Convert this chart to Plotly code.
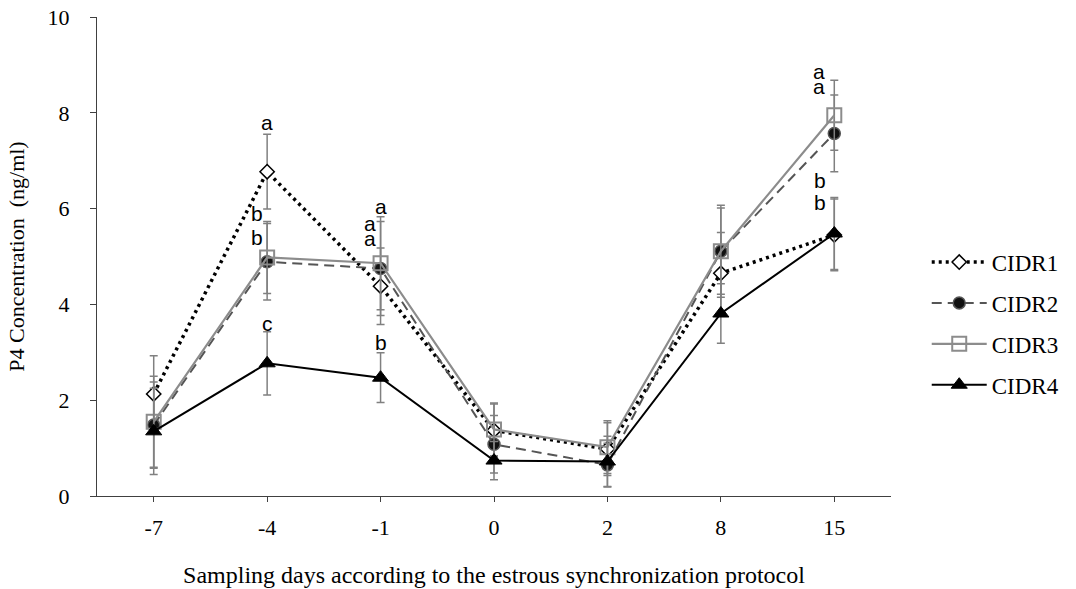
import plotly.graph_objects as go

days = ["-7", "-4", "-1", "0", "2", "8", "15"]

cidr1 = [2.13, 6.77, 4.38, 1.37, 0.98, 4.65, 5.45]
cidr1_err = [0.80, 0.78, 0.80, 0.55, 0.55, 0.85, 0.75]
cidr2 = [1.48, 4.89, 4.75, 1.08, 0.65, 5.11, 7.57]
cidr2_err = [0.90, 0.80, 0.98, 0.60, 0.45, 0.90, 0.80]
cidr3 = [1.55, 4.98, 4.86, 1.39, 1.02, 5.11, 7.95]
cidr3_err = [0.95, 0.75, 0.97, 0.55, 0.55, 0.96, 0.73]
cidr4 = [1.35, 2.77, 2.47, 0.74, 0.72, 3.81, 5.48]
cidr4_err = [0.90, 0.66, 0.52, 0.40, 0.53, 0.62, 0.75]

# significance letters
letters_day = ["-4", "-4", "-4", "-4", "-1", "-1", "-1", "-1", "15", "15", "15", "15"]
letters_y = [7.79, 5.89, 5.40, 3.61, 6.04, 5.68, 5.37, 3.21, 8.86, 8.55, 6.58, 6.12]
letters_txt = ["a", "b", "b", "c", "a", "a", "a", "b", "a", "a", "b", "b"]
letters_dx = [0, -10, -10, 0, 0, -11, -11, 0, -15, -15, -14, -14]

series = [
    dict(name="CIDR1", y=cidr1, e=cidr1_err,
         line=dict(color="black", width=3.5, dash="3px,4px"),
         marker=dict(symbol="diamond", size=11, color="white",
                     line=dict(color="black", width=1.5))),
    dict(name="CIDR2", y=cidr2, e=cidr2_err,
         line=dict(color="#555555", width=2, dash="10px,6px"),
         marker=dict(symbol="circle", size=12, color="#111111",
                     line=dict(color="#555555", width=1.5))),
    dict(name="CIDR3", y=cidr3, e=cidr3_err,
         line=dict(color="#8c8c8c", width=2.2),
         marker=dict(symbol="square", size=14, color="rgba(255,255,255,0)",
                     line=dict(color="#8c8c8c", width=2))),
    dict(name="CIDR4", y=cidr4, e=cidr4_err,
         line=dict(color="black", width=2),
         marker=dict(symbol="triangle-up", size=14, color="black",
                     line=dict(color="black", width=1))),
]

fig = go.Figure()
for i, s in enumerate(series):
    fig.add_trace(go.Scatter(
        x=days, y=s["y"], name=s["name"], mode="lines+markers",
        line=s["line"], marker=s["marker"], legendgroup=s["name"],
        error_y=dict(type="data", array=s["e"], visible=True,
                     color="#808080", thickness=1.5, width=4),
    ))

for d, yv, t, dx in zip(letters_day, letters_y, letters_txt, letters_dx):
    fig.add_annotation(x=days.index(d), y=yv, text=t, showarrow=False, xshift=dx,
                       yanchor="middle", xanchor="center",
                       font=dict(family="Liberation Sans, Arial", size=21, color="black"))

serif = "Liberation Serif, Times New Roman, serif"
fig.update_layout(
    width=1076, height=589,
    margin=dict(l=97, r=178, t=17, b=93),
    paper_bgcolor="white", plot_bgcolor="white",
    font=dict(family=serif, size=22, color="black"),
    showlegend=True,
    legend=dict(x=1.045, y=0.36, xanchor="left", yanchor="middle",
                traceorder="grouped", tracegroupgap=8, itemwidth=55,
                font=dict(family=serif, size=23, color="black"),
                bgcolor="rgba(0,0,0,0)"),
    xaxis=dict(type="category", range=[-0.5, len(days) - 0.5],
               showgrid=False, zeroline=False,
               showline=True, linecolor="#404040", linewidth=1,
               ticks="outside", ticklen=5, tickcolor="#404040",
               ticklabelstandoff=7,
               title=dict(text="Sampling days according to the estrous synchronization protocol",
                          font=dict(family=serif, size=24), standoff=26),
               automargin=False),
    yaxis=dict(range=[0, 10], dtick=2, showgrid=False, zeroline=False,
               showline=True, linecolor="#404040", linewidth=1,
               ticks="outside", ticklen=6, tickcolor="#404040",
               ticklabelstandoff=16,
               title=dict(text="P4 Concentration\u00a0 (ng/ml)",
                          font=dict(family=serif, size=22), standoff=16),
               automargin=False),
)

fig.write_html("out.html", config={"displayModeBar": False},
               post_script="document.body.style.margin='0';document.body.style.overflow='hidden';")
